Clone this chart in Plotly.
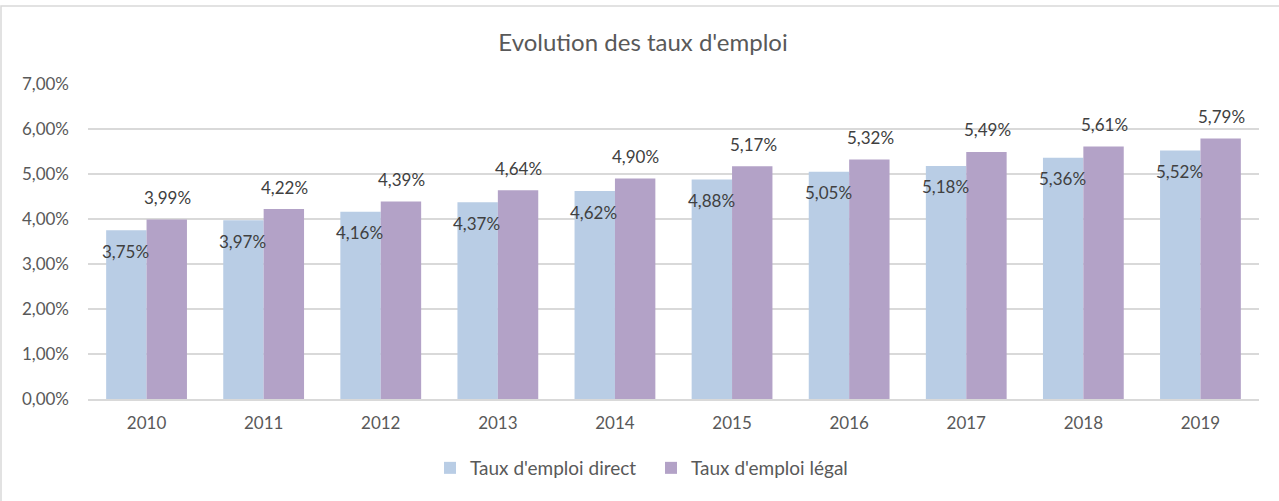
import plotly.graph_objects as go

years = ["2010", "2011", "2012", "2013", "2014", "2015", "2016", "2017", "2018", "2019"]
direct = [3.75, 3.97, 4.16, 4.37, 4.62, 4.88, 5.05, 5.18, 5.36, 5.52]
legal = [3.99, 4.22, 4.39, 4.64, 4.90, 5.17, 5.32, 5.49, 5.61, 5.79]
y_ticks = [0, 1, 2, 3, 4, 5, 6, 7]
y_tick_labels = ["0,00%", "1,00%", "2,00%", "3,00%", "4,00%", "5,00%", "6,00%", "7,00%"]

FONT = "Lato"
GREY = "#595959"
C_DIRECT = "#B9CDE5"
C_LEGAL = "#B3A2C7"

def fr(v):
    return f"{v:.2f}".replace(".", ",") + "%"

fig = go.Figure()
fig.add_trace(go.Bar(x=years, y=direct, name="Taux d'emploi direct",
                     marker=dict(color=C_DIRECT, line=dict(width=0))))
fig.add_trace(go.Bar(x=years, y=legal, name="Taux d'emploi légal",
                     marker=dict(color=C_LEGAL, line=dict(width=0))))

annotations = []
for i, y in enumerate(years):
    # category axis: annotation x is the category index
    annotations.append(dict(x=i, y=direct[i], xref="x", yref="y", text=fr(direct[i]),
                            showarrow=False, xshift=-21, yshift=-21,
                            font=dict(family=FONT, size=17, color="#404040")))
    annotations.append(dict(x=i, y=legal[i], xref="x", yref="y", text=fr(legal[i]),
                            showarrow=False, xshift=21, yshift=22,
                            font=dict(family=FONT, size=17, color="#404040")))

fig.update_layout(
    width=1279, height=501,
    margin=dict(l=88, r=20, t=84, b=102),
    paper_bgcolor="white", plot_bgcolor="white",
    barmode="group", bargap=0.31, bargroupgap=0,
    title=dict(text="Evolution des taux d'emploi", x=643 / 1279, xanchor="center",
               y=1 - 43 / 501, yanchor="middle",
               font=dict(family=FONT, size=24, color=GREY)),
    font=dict(family=FONT, color=GREY),
    xaxis=dict(type="category", range=[-0.5, 9.5], showgrid=False, showline=True,
               linecolor="#D9D9D9", linewidth=1.5,
               tickfont=dict(family=FONT, size=17, color=GREY),
               ticks="", ticklabelstandoff=8),
    yaxis=dict(range=[0, 7], tickvals=y_ticks, ticktext=y_tick_labels,
               showgrid=True, gridcolor="#D9D9D9", gridwidth=1.5, zeroline=False,
               showline=False, tickfont=dict(family=FONT, size=17, color=GREY),
               ticks="", ticklabelstandoff=18),
    legend=dict(orientation="h", x=(430 - 88) / 1171, xanchor="left",
                y=-(468 - 399) / 315, yanchor="middle",
                font=dict(family=FONT, size=19, color=GREY),
                itemwidth=30, traceorder="normal",
                entrywidthmode="pixels", entrywidth=176),
    annotations=annotations,
    shapes=[dict(type="rect", xref="paper", yref="paper",
                 x0=(1 - 88) / 1171, x1=(1290 - 88) / 1171,
                 y0=-(520 - 399) / 315, y1=(399 - 6) / 315,
                 line=dict(color="#D9D9D9", width=1.5), fillcolor="rgba(0,0,0,0)",
                 layer="below")],
)

fig.write_html("out.html", config={"displayModeBar": False},
               post_script="document.body.style.margin='0px';")
